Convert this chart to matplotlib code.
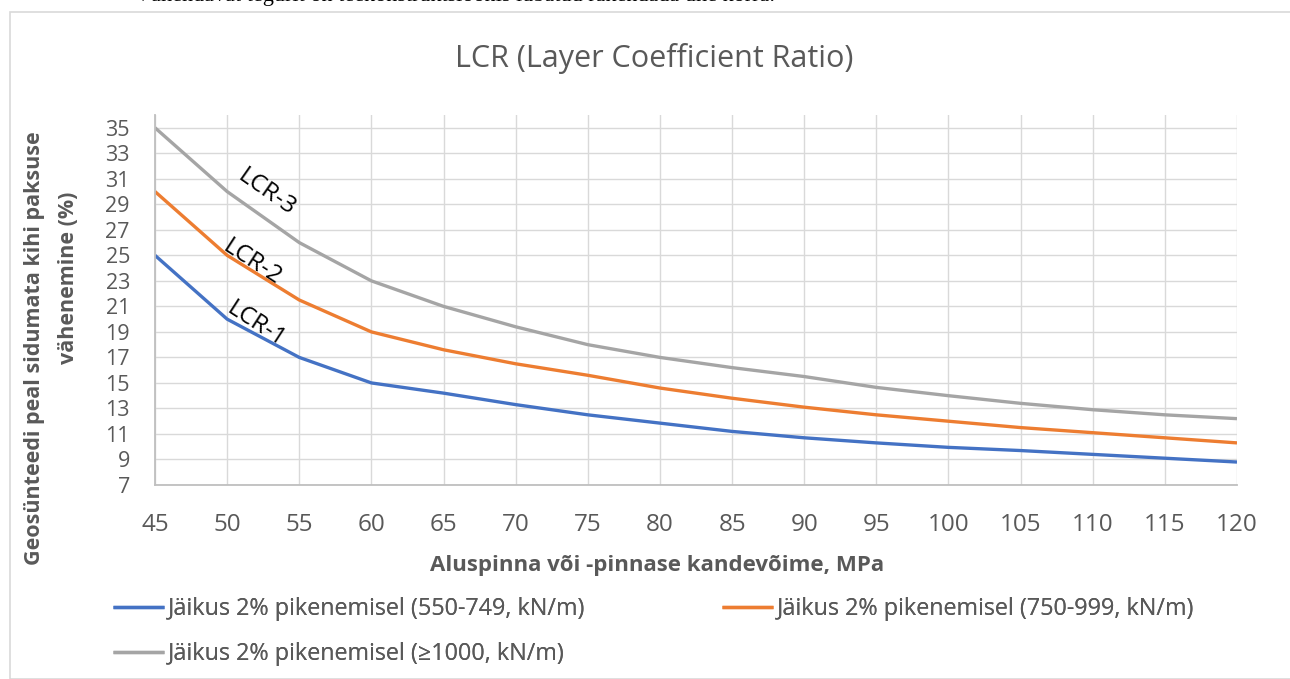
import matplotlib
matplotlib.use('Agg')
import matplotlib.pyplot as plt
from matplotlib.patches import Rectangle

# Data
kandevoime = [45, 50, 55, 60, 65, 70, 75, 80, 85, 90, 95, 100, 105, 110, 115, 120]
lcr1 = [25, 20, 17, 15, 14.2, 13.3, 12.5, 11.85, 11.2, 10.7, 10.3, 9.95, 9.7, 9.4, 9.1, 8.8]
lcr2 = [30, 25, 21.5, 19, 17.6, 16.5, 15.6, 14.6, 13.8, 13.1, 12.5, 12.0, 11.5, 11.1, 10.7, 10.3]
lcr3 = [35, 30, 26, 23, 21, 19.4, 18, 17, 16.2, 15.5, 14.65, 14.0, 13.4, 12.9, 12.5, 12.2]
series_names = ['Jäikus 2% pikenemisel (550-749, kN/m)',
                'Jäikus 2% pikenemisel (750-999, kN/m)',
                'Jäikus 2% pikenemisel (≥1000, kN/m)']
curve_labels = ['LCR-1', 'LCR-2', 'LCR-3']
x_ticks = list(range(45, 121, 5))
y_ticks = list(range(7, 36, 2))

COLORS = ['#4472C4', '#ED7D31', '#A5A5A5']
TEXT_GRAY = '#595959'
GRID = '#D9D9D9'
W, H = 1290, 679

plt.rcParams['font.family'] = ['Open Sans', 'DejaVu Sans']

fig = plt.figure(figsize=(W / 100, H / 100), dpi=100)

# chart frame (right side clipped in the reference)
fig.patches.append(Rectangle((10 / W, 0), 1.0, 1 - 12 / H, transform=fig.transFigure,
                             fill=False, edgecolor='#D9D9D9', linewidth=1.2))
# clipped paragraph text above the chart
fig.text(135 / W, 1 - 1 / H, 'Vähendavat tegurit on teekonstruktsioonis lubatud rakendada ühe korra.',
         family='Liberation Serif', fontsize=16, va='baseline', ha='left', color='black')

ax = fig.add_axes([155 / W, 1 - 485 / H, (1237 - 155) / W, (485 - 115) / H])

lines = []
for vals, col, name in zip([lcr1, lcr2, lcr3], COLORS, series_names):
    ln, = ax.plot(kandevoime, vals, color=col, linewidth=2.4, label=name,
                  solid_joinstyle='round', solid_capstyle='butt')
    lines.append(ln)

ax.set_xlim(45, 120)
ax.set_ylim(7, 36)
ax.set_xticks(x_ticks)
ax.set_yticks(y_ticks)
ax.grid(True, color=GRID, linewidth=1.0)
ax.set_axisbelow(True)
ax.tick_params(length=0, labelcolor=TEXT_GRAY)
ax.tick_params(axis='y', labelsize=15.5, pad=18)
ax.tick_params(axis='x', labelsize=17.5, pad=20)
for side in ['top', 'right']:
    ax.spines[side].set_visible(False)
for side in ['left', 'bottom']:
    ax.spines[side].set_color('#BFBFBF')
    ax.spines[side].set_linewidth(1.3)

# curve labels along the lines
label_pos = [(52.0, 19.6, -33), (51.7, 24.4, -33), (52.7, 29.9, -35)]
for txt, (lx, ly, rot) in zip(curve_labels, label_pos):
    ax.text(lx, ly, txt, rotation=rot, fontsize=17.5, color='black',
            ha='center', va='center', rotation_mode='anchor')

fig.text(654 / W, 1 - 59 / H, 'LCR (Layer Coefficient Ratio)', ha='center', va='center',
         fontsize=22, color=TEXT_GRAY)
fig.text(657 / W, 1 - 565 / H, 'Aluspinna või -pinnase kandevõime, MPa', ha='center', va='center',
         fontsize=16, fontweight='bold', color=TEXT_GRAY)
fig.text(35 / W, 1 - 348 / H, 'Geosünteedi peal sidumata kihi paksuse',
         ha='center', va='center', rotation=90, fontsize=15.5, fontweight='bold', color=TEXT_GRAY)
fig.text(69 / W, 1 - 278 / H, 'vähenemine (%)',
         ha='center', va='center', rotation=90, fontsize=15.5, fontweight='bold', color=TEXT_GRAY)

# legend entries placed like the reference (two rows)
legend_pos = [(113, 609), (722, 609), (113, 654)]
for ln, name, (lx, ly) in zip(lines, series_names, legend_pos):
    leg = fig.legend([ln], [name], loc='center left', bbox_to_anchor=(lx / W, 1 - ly / H),
                     frameon=False, fontsize=16.8, handlelength=2.2, handletextpad=0.15,
                     borderpad=0, borderaxespad=0, labelcolor=TEXT_GRAY)
    fig.add_artist(leg)

fig.savefig('out.png', dpi=100)
